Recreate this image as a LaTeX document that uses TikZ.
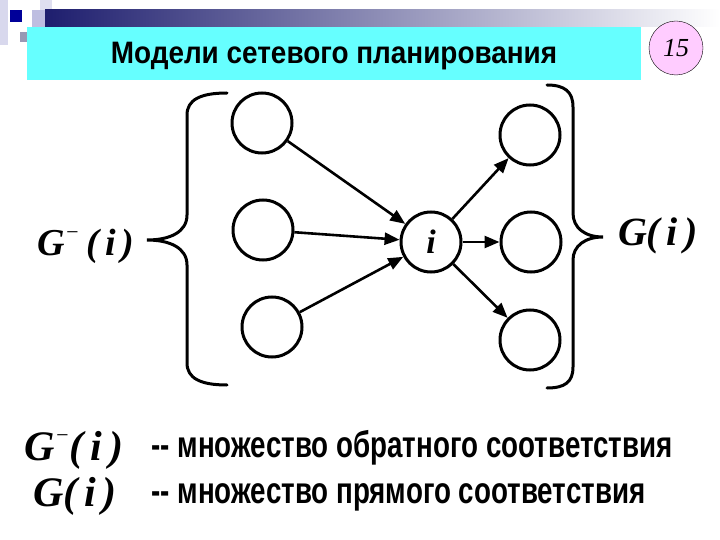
\documentclass[tikz,border=0pt]{standalone}
\usepackage{fontspec}
\setmainfont{Liberation Serif}
\newfontfamily\zagfont[FakeStretch=0.9]{Liberation Sans}
\newfontfamily\uzkfont[FakeStretch=0.75]{Liberation Sans}
\usepackage{tikz}
\usetikzlibrary{arrows.meta}
\definecolor{GoluboyFon}{RGB}{102,255,255}
\definecolor{RozovyKrug}{RGB}{255,204,255}
\definecolor{SinyayaPolosa}{RGB}{30,30,110}
\definecolor{Lavanda}{RGB}{190,190,225}
\newcommand{\minusind}{\raisebox{0.42em}{\fontsize{22}{22}\selectfont\mdseries −}}
\tikzset{
  vershina/.style={circle,draw,line width=3pt,minimum size=60pt,inner sep=0pt},
  duga/.style={->,line width=2.6pt},
  skobka/.style={line width=3pt,line cap=round},
  mnozh/.style={font=\bfseries\itshape\fontsize{40}{42}\selectfont},
  poyasn/.style={anchor=west,font=\uzkfont\bfseries\fontsize{37}{40}\selectfont}
}

\begin{document}
\begin{tikzpicture}[x=1pt,y=-1pt,>={Triangle[length=15pt,width=12pt]}]
  \useasboundingbox (0,0) rectangle (720,540);
  \fill[white] (0,0) rectangle (720,540);
  \fill[Lavanda!60] (0,0) rectangle (8,45);
  \fill[Lavanda!50] (40,0) rectangle (52,10);
  \fill[Lavanda] (32,10) rectangle (52,27);
  \fill[Lavanda!80!black] (20,32) rectangle (27,42);
  \shade[left color=SinyayaPolosa,right color=white] (45,10) rectangle (720,27);
  \fill[blue!60!black] (10,10) rectangle (22,22);
  \fill[GoluboyFon] (27,27) rectangle (641,80);
  \node[font=\zagfont\bfseries\fontsize{31}{34}\selectfont] (zag) at (334,56) {Модели сетевого планирования};
  \node[circle,draw,fill=RozovyKrug,minimum size=54pt,inner sep=0pt,font=\itshape\fontsize{26}{28}\selectfont] (nomer) at (676,48) {15};

  \node[vershina] (l1) at (262,123) {};
  \node[vershina] (l2) at (263,230) {};
  \node[vershina] (l3) at (272,327) {};
  \node[vershina,font=\bfseries\itshape\fontsize{34}{36}\selectfont] (i) at (431,242) {i};
  \node[vershina] (r1) at (530,135) {};
  \node[vershina] (r2) at (531,242) {};
  \node[vershina] (r3) at (530,340) {};

  \draw[duga] (l1) -- (i);
  \draw[duga] (l2) -- (i);
  \draw[duga] (l3) -- (i);
  \draw[duga] (i) -- (r1);
  \draw[duga] (i) -- (r2);
  \draw[duga] (i) -- (r3);

  \draw[skobka] (227,93) .. controls (200,93) and (187,100) .. (187,115) -- (187,215)
    .. controls (187,232) and (170,240) .. (147,240)
    .. controls (170,240) and (187,248) .. (187,265) -- (187,363)
    .. controls (187,378) and (200,385) .. (227,385);
  \draw[skobka] (547,85) .. controls (565,85) and (573,92) .. (573,107) -- (573,213)
    .. controls (573,228) and (585,237) .. (603,237)
    .. controls (585,237) and (573,246) .. (573,260) -- (573,367)
    .. controls (573,382) and (565,388) .. (547,388);

  \node[mnozh,font=\bfseries\itshape\fontsize{38}{40}\selectfont] (gminus) at (86,246) {G\minusind\,(\,i\,)};
  \node[mnozh] (gplus) at (658,236) {G(\,i\,)};

  \node[mnozh,font=\bfseries\itshape\fontsize{42}{44}\selectfont] (legm) at (74,450) {G\minusind(\,i\,)};
  \node[mnozh,font=\bfseries\itshape\fontsize{42}{44}\selectfont] (legp) at (75,496) {G(\,i\,)};
  \node[poyasn] (txtm) at (148,448) {-- множество обратного соответствия};
  \node[poyasn] (txtp) at (148,497) {-- множество прямого соответствия};
\end{tikzpicture}
\end{document}
